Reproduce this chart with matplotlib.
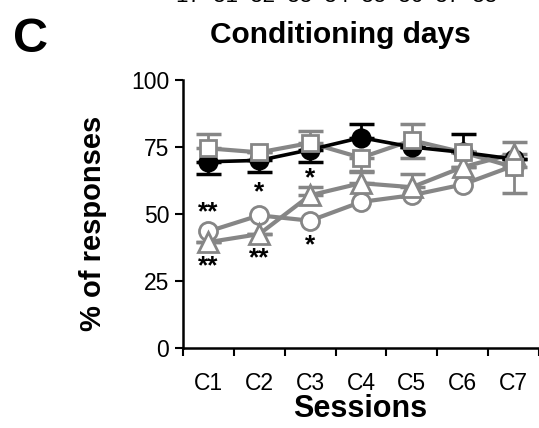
import numpy as np
import matplotlib
matplotlib.use("Agg")
import matplotlib.pyplot as plt

plt.rcParams['font.family'] = ['Liberation Sans', 'DejaVu Sans']

# Datos (% de respuestas por sesion)
sessions = ['C1', 'C2', 'C3', 'C4', 'C5', 'C6', 'C7']
x = np.arange(1, 8)

black_mean = [69.5, 70, 74, 78.5, 75, 73, 70.5]
black_lo = [4.5, 4.5, 4.5, 0, 0, 0, 0]
black_hi = [0, 0, 0, 5, 0, 7, 0]

square_mean = [74.5, 73, 76.5, 71, 77.5, 73, 67.5]
square_lo = [0, 0, 0, 5, 6.5, 0, 9.5]
square_hi = [5.5, 0, 4.5, 0, 6, 0, 0]

tri_mean = [39.5, 42.5, 57, 61.5, 60, 67.5, 72.5]
tri_lo = [0, 0, 0, 0, 0, 0, 0]
tri_hi = [0, 0, 3, 4, 5, 0, 4.5]

circ_mean = [43.5, 49.5, 47.5, 54.5, 57, 61, 68]

# asteriscos de significacion: (sesion, y, texto)
stars_x = [1, 1, 2, 2, 3, 3]
stars_y = [50.5, 30.5, 58, 33.5, 63.5, 38.5]
stars_txt = ['**', '**', '*', '**', '*', '*']

gray = '#868686'

fig = plt.figure(figsize=(5.39, 4.28), dpi=100)
ax = fig.add_axes([183 / 539, 80 / 428, 356 / 539, 268 / 428])

# barras de error
ax.errorbar(x, black_mean, yerr=[black_lo, black_hi], fmt='none', ecolor='black',
            elinewidth=2, capsize=9, capthick=2.5, zorder=1)
ax.errorbar(x, square_mean, yerr=[square_lo, square_hi], fmt='none', ecolor=gray,
            elinewidth=2, capsize=9, capthick=2.5, zorder=1)
ax.errorbar(x, tri_mean, yerr=[tri_lo, tri_hi], fmt='none', ecolor=gray,
            elinewidth=2, capsize=9, capthick=2.5, zorder=1)

# lineas
ax.plot(x, circ_mean, color=gray, lw=3, zorder=2)
ax.plot(x, tri_mean, color=gray, lw=3, zorder=2)
ax.plot(x, square_mean, color=gray, lw=3, zorder=2)
ax.plot(x, black_mean, color='black', lw=2.6, zorder=3)

# marcadores
ax.plot(x, black_mean, 'o', ms=13, mfc='black', mec='black', mew=1.5, zorder=4)
ax.plot(x, circ_mean, 'o', ms=13, mfc='white', mec=gray, mew=2, zorder=5)
ax.plot(x, tri_mean, '^', ms=14, mfc='white', mec=gray, mew=2, zorder=6)
ax.plot(x, square_mean, 's', ms=12, mfc='white', mec=gray, mew=2, zorder=7)

for sx, sy, st in zip(stars_x, stars_y, stars_txt):
    ax.text(sx, sy, st, ha='center', va='center', fontsize=19, fontweight='bold',
            color='black', zorder=8)

ax.set_xlim(0.5, 7.5)
ax.set_ylim(0, 100)
ax.set_yticks([0, 25, 50, 75, 100])
ax.set_xticks(x)
ax.set_xticklabels(sessions)
ax.set_xticks(np.arange(0.5, 8, 1), minor=True)
ax.tick_params(axis='x', which='major', length=0, pad=17, labelsize=16.5)
ax.tick_params(axis='x', which='minor', length=6, width=1.5, direction='out')
ax.tick_params(axis='y', length=6, width=1.5, direction='out', pad=4, labelsize=16.5)

for s in ['top', 'right']:
    ax.spines[s].set_visible(False)
ax.spines['left'].set_linewidth(1.8)
ax.spines['bottom'].set_linewidth(1.8)
ax.patch.set_alpha(0)

fig.text(93 / 539, 0.477, '% of responses', rotation=90, ha='center', va='center',
         fontsize=21, fontweight='bold')
fig.text(360 / 539, 11 / 428, 'Sessions', ha='center', va='baseline',
         fontsize=22, fontweight='bold')
fig.text(340 / 539, (428 - 43) / 428, 'Conditioning days', ha='center', va='baseline',
         fontsize=21.5, fontweight='bold')
fig.text(13 / 539, (428 - 52) / 428, 'C', ha='left', va='baseline',
         fontsize=35, fontweight='bold')
# texto cortado en el borde superior
fig.text(337 / 539, (428 - 2) / 428, '17  31  32  33  34  35  36  37  38', ha='center',
         va='baseline', fontsize=16)

fig.savefig('out.png', dpi=100)
